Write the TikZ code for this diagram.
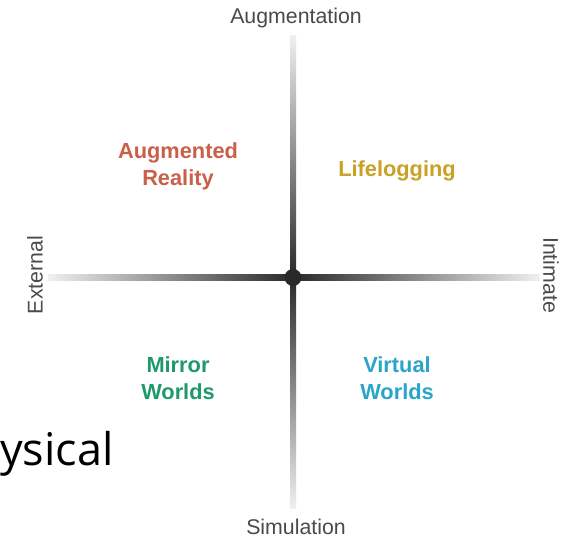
\documentclass[tikz,border=0pt]{standalone}
\usepackage{fontspec}
\setmainfont{Liberation Sans}
\newfontfamily\bigfont{Open Sans}
\definecolor{arcol}{HTML}{C9614A}
\definecolor{llcol}{HTML}{C9A225}
\definecolor{mwcol}{HTML}{1E9A6A}
\definecolor{vwcol}{HTML}{2AA5C9}
\definecolor{axlab}{HTML}{4A4A4A}
\begin{document}
\begin{tikzpicture}[x=1pt,y=-1pt,
  axislabel/.style={text=axlab,font=\fontsize{21.3}{25}\selectfont,inner sep=0pt},
  quad/.style={font=\bfseries\fontsize{21.8}{27}\selectfont,align=center,inner sep=0pt}]
\useasboundingbox[fill=white] (0,0) rectangle (568,539);
% axes
\shade[left color=black!6,right color=black!84] (48,274.5) rectangle (293,280);
\shade[left color=black!84,right color=black!6] (293,274.5) rectangle (540,280);
\shade[top color=black!6,bottom color=black!84] (290,35) rectangle (296,278);
\shade[top color=black!84,bottom color=black!6] (290,277) rectangle (296,508);
\fill[black!84] (293,277.5) circle (8.5);
\coordinate (c) at (293,277.5);
% axis labels
\node[axislabel] (aug) at (296,18) {Augmentation};
\node[axislabel] (sim) at (296,527) {Simulation};
\node[axislabel,rotate=90] (ext) at (35,275) {External};
\node[axislabel,rotate=-90] (int) at (551,275) {Intimate};
% quadrants
\node[quad,text=arcol] (ar) at (178,166) {Augmented\\Reality};
\node[quad,text=llcol] (ll) at (397,171) {Lifelogging};
\node[quad,text=mwcol] (mw) at (178,378) {Mirror\\Worlds};
\node[quad,text=vwcol] (vw) at (397,378) {Virtual\\Worlds};
% partial big text
\node[anchor=base west,inner sep=0pt,font=\bigfont\fontsize{45}{54}\selectfont] (phys) at (0,465) {ysical};
\end{tikzpicture}
\end{document}
